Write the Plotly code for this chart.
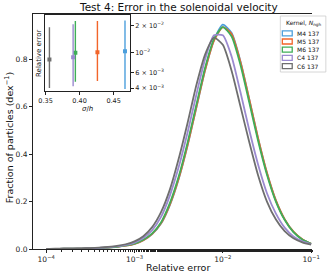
import plotly.graph_objects as go

# ---------------- data ----------------
logx = [-4.0, -3.9, -3.8, -3.7, -3.6, -3.5, -3.4, -3.3, -3.2, -3.1, -3.0,
        -2.9, -2.8, -2.7, -2.6, -2.5, -2.4, -2.3, -2.2, -2.1, -2.0,
        -1.9, -1.8, -1.7, -1.6, -1.5, -1.4, -1.3, -1.2, -1.1, -1.0]

m4 = [0.000, 0.000, 0.001, 0.001, 0.002, 0.003, 0.004, 0.006, 0.009, 0.014, 0.022,
      0.037, 0.063, 0.107, 0.185, 0.295, 0.435, 0.595, 0.755, 0.880, 0.945,
      0.910, 0.790, 0.630, 0.465, 0.320, 0.205, 0.125, 0.072, 0.040, 0.022]
m5 = [0.000, 0.000, 0.001, 0.001, 0.002, 0.003, 0.004, 0.006, 0.009, 0.014, 0.022,
      0.037, 0.064, 0.108, 0.187, 0.297, 0.437, 0.597, 0.755, 0.878, 0.935,
      0.905, 0.788, 0.630, 0.466, 0.321, 0.206, 0.126, 0.073, 0.041, 0.022]
m6 = [0.000, 0.000, 0.001, 0.001, 0.002, 0.003, 0.004, 0.006, 0.009, 0.015, 0.023,
      0.039, 0.066, 0.112, 0.193, 0.305, 0.447, 0.607, 0.765, 0.885, 0.935,
      0.895, 0.775, 0.617, 0.455, 0.313, 0.201, 0.123, 0.071, 0.040, 0.022]
c4 = [0.000, 0.000, 0.001, 0.001, 0.002, 0.003, 0.005, 0.007, 0.011, 0.017, 0.027,
      0.046, 0.079, 0.135, 0.225, 0.345, 0.490, 0.650, 0.800, 0.900, 0.900,
      0.810, 0.660, 0.500, 0.355, 0.235, 0.150, 0.090, 0.053, 0.032, 0.020]
c6 = [0.000, 0.001, 0.001, 0.002, 0.003, 0.004, 0.006, 0.009, 0.013, 0.020, 0.032,
      0.054, 0.092, 0.155, 0.250, 0.380, 0.530, 0.690, 0.820, 0.890, 0.860,
      0.750, 0.600, 0.450, 0.310, 0.200, 0.125, 0.075, 0.045, 0.028, 0.018]

kernels = ["M4", "M5", "M6", "C4", "C6"]
n_ngh = [137, 137, 137, 137, 137]
colors = ["#4c9fdc", "#f2652a", "#3fae58", "#9b8ad0", "#6e6e6e"]
series = [m4, m5, m6, c4, c6]

# inset: sigma/h vs relative error (median with spread)
sigma_h = [0.4667, 0.4262, 0.3938, 0.3905, 0.3557]
err_med = [0.0103, 0.0100, 0.0099, 0.0088, 0.0083]
err_hi = [0.0226, 0.0223, 0.0223, 0.0205, 0.0190]
err_lo = [0.0039, 0.0048, 0.0047, 0.0042, 0.0040]

xtick_vals = [1e-4, 1e-3, 1e-2, 1e-1]
xtick_text = ["10<sup>\u22124</sup>", "10<sup>\u22123</sup>", "10<sup>\u22122</sup>", "10<sup>\u22121</sup>"]
ytick_vals = [0.0, 0.2, 0.4, 0.6, 0.8]
in_xticks = [0.35, 0.40, 0.45]
in_yticks = [0.004, 0.006, 0.01, 0.02]
in_ytext = ["4 \u00d7 10<sup>\u22123</sup>", "6 \u00d7 10<sup>\u22123</sup>",
            "10<sup>\u22122</sup>", "2 \u00d7 10<sup>\u22122</sup>"]

# ---------------- layout geometry ----------------
W, H = 332, 276
L, R, T, B = 33, 17, 14, 27
PW, PH = W - L - R, H - T - B


def px(x):
    return (x - L) / PW


def py(y):
    return (H - B - y) / PH


FONT = "DejaVu Sans"
fig = go.Figure()

for name, n, col, vals in zip(kernels, n_ngh, colors, series):
    fig.add_trace(go.Scatter(
        x=[10 ** v for v in logx], y=vals, mode="lines",
        line=dict(color=col, width=1.8, shape="spline", smoothing=0.6),
        name=f"{name} {n}", showlegend=False, xaxis="x", yaxis="y"))

for xs, med, hi, lo, col in zip(sigma_h, err_med, err_hi, err_lo, colors):
    fig.add_trace(go.Scatter(
        x=[xs], y=[med], mode="markers",
        marker=dict(color=col, size=4, symbol="square"),
        error_y=dict(type="data", symmetric=False, array=[hi - med],
                     arrayminus=[med - lo], color=col, thickness=1.4, width=0),
        showlegend=False, xaxis="x2", yaxis="y2"))

ax_common = dict(showline=True, linecolor="#222", linewidth=0.9, ticks="outside",
                 ticklen=3, tickwidth=0.8, tickcolor="#222", showgrid=False,
                 zeroline=False, tickfont=dict(family=FONT, size=7.5, color="#222"))

fig.update_layout(
    width=W, height=H, margin=dict(l=L, r=R, t=T, b=B),
    paper_bgcolor="white", plot_bgcolor="white",
    xaxis=dict(type="log", range=[-4.15, -0.99], domain=[0, 1],
               tickvals=xtick_vals, ticktext=xtick_text, mirror=True,
               minor=dict(ticks="outside", ticklen=1.8, tickcolor="#222",
                          showgrid=False),
               **ax_common),
    yaxis=dict(range=[0, 0.99], domain=[0, 1], tickvals=ytick_vals,
               tickformat=".1f", **ax_common),
    xaxis2=dict(range=[0.349, 0.474], domain=[px(45), px(131)], anchor="y2",
                tickvals=in_xticks, tickformat=".2f", mirror=True, **ax_common),
    yaxis2=dict(type="log", range=[-2.43, -1.585], domain=[py(91), py(15)],
                anchor="x2", side="right", tickvals=in_yticks, ticktext=in_ytext,
                mirror=True, **ax_common),
    showlegend=False,
)
fig.layout.xaxis2.tickfont.size = 6.5
fig.layout.yaxis2.tickfont.size = 6.5

# inset background
fig.add_shape(type="rect", xref="paper", yref="paper",
              x0=px(45), x1=px(131), y0=py(91), y1=py(15),
              fillcolor="white", line=dict(width=0), layer="below")

ann = []
ann.append(dict(text="Test 4: Error in the solenoidal velocity", x=px(180), y=py(7),
                font=dict(family=FONT, size=10.5, color="#111")))
ann.append(dict(text="Relative error", x=px(180), y=py(267),
                font=dict(family=FONT, size=9.5, color="#111")))
ann.append(dict(text="Fraction of particles (dex<sup>\u22121</sup>)", x=px(9), y=py(138),
                textangle=-90, font=dict(family=FONT, size=9.5, color="#111")))
ann.append(dict(text="Relative error", x=px(39), y=py(53), textangle=-90,
                font=dict(family=FONT, size=7, color="#111")))
ann.append(dict(text="<i>\u03c3</i>/<i>h</i>", x=px(88), y=py(109),
                font=dict(family=FONT, size=7, color="#111")))

# legend (custom, matplotlib style)
leg_x0, leg_x1, leg_y0, leg_y1 = 283, 329, 16, 72
fig.add_shape(type="rect", xref="paper", yref="paper",
              x0=px(leg_x0), x1=px(leg_x1), y0=py(leg_y1), y1=py(leg_y0),
              fillcolor="rgba(255,255,255,0.85)", line=dict(color="#cccccc", width=0.8))
ann.append(dict(text="Kernel, <i>N</i><sub>ngh</sub>", x=px(306), y=py(23),
                font=dict(family=FONT, size=6, color="#111")))
for i, (name, n, col) in enumerate(zip(kernels, n_ngh, colors)):
    yc = 33.3 + i * 8.2
    fig.add_shape(type="rect", xref="paper", yref="paper",
                  x0=px(285), x1=px(295), y0=py(yc + 2.5), y1=py(yc - 2.5),
                  fillcolor="rgba(0,0,0,0)", line=dict(color=col, width=1.3))
    ann.append(dict(text=f"{name} {n}", x=px(298), y=py(yc), xanchor="left",
                    font=dict(family=FONT, size=6, color="#111")))

for a in ann:
    a.setdefault("xanchor", "center")
    a.update(xref="paper", yref="paper", showarrow=False, yanchor="middle")
fig.update_layout(annotations=ann)

fig.write_html("out.html", config={"displayModeBar": False},
               post_script="document.body.style.margin='0px';")
